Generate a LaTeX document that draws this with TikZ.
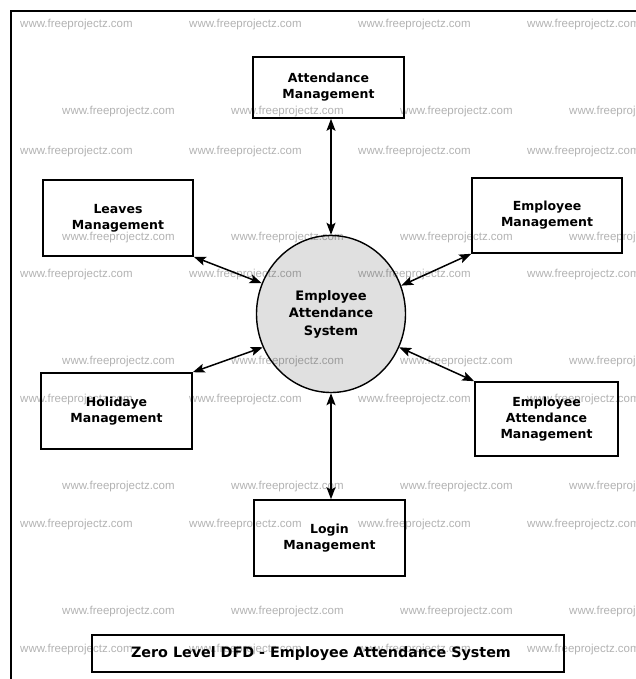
\documentclass[tikz,border=0pt]{standalone}
\usepackage{fontspec}
\setmainfont{DejaVu Sans}
\newfontfamily\wmfont{Liberation Sans}
\usetikzlibrary{shapes.geometric,arrows.meta}
\begin{document}
\begin{tikzpicture}[x=1pt,y=-1pt,
  procbox/.style={draw,line width=1.6pt,inner sep=0pt,align=center,
    font=\bfseries\fontsize{12.5}{16}\selectfont},
  flow/.style={line width=1.5pt,{Stealth[length=12pt,width=9pt,inset=2.5pt]}-{Stealth[length=12pt,width=9pt,inset=2.5pt]}},
  wm/.style={anchor=west,inner sep=0pt,text=black,text opacity=0.3,
    font=\wmfont\fontsize{11.5}{12}\selectfont}]
\useasboundingbox (0,0) rectangle (636,679);
\fill[white] (0,0) rectangle (636,679);
\draw[line width=2.5pt] (11,690) -- (11,11) -- (650,11);

\node[procbox,minimum width=151pt,minimum height=61pt] (att) at (328.5,87.5) {Attendance\\Management};
\node[procbox,minimum width=150pt,minimum height=76pt] (leaves) at (118,218) {Leaves\\Management};
\node[procbox,minimum width=150pt,minimum height=75pt] (emp) at (547,215.5) {Employee\\Management};
\node[procbox,minimum width=151pt,minimum height=76pt] (hol) at (116.5,411) {Holidaye\\Management};
\node[procbox,minimum width=143pt,minimum height=74pt] (ea) at (546.5,419) {Employee\\Attendance\\Management};
\node[procbox,minimum width=151pt,minimum height=76pt] (login) at (329.5,538) {Login\\Management};
\node[procbox,minimum width=472pt,minimum height=37pt] (title) at (328,653.5) {};
\node[inner sep=0pt,font=\bfseries\fontsize{14.3}{17}\selectfont] (titletext) at ([xshift=-7pt]title.center) {Zero Level DFD - Employee Attendance System};

\node[ellipse,draw,line width=1.4pt,fill=black!12,minimum width=149pt,minimum height=157pt,inner sep=0pt,align=center,
  font=\bfseries\fontsize{13}{17.5}\selectfont] (sys) at (331,314) {Employee\\Attendance\\System};

\draw[flow] (sys.north |- att.south) -- (sys.north);
\draw[flow] (leaves.south east) -- (sys.156);
\draw[flow] (emp.south west) -- (sys.22);
\draw[flow] (hol.north east) -- (sys.206);
\draw[flow] (ea.north west) -- (sys.334);
\draw[flow] (sys.south |- login.north) -- (sys.south);

\begin{scope}
\clip (0,0) rectangle (636,679);
\foreach \yy in {25,152,275,400,525,650}
  \foreach \xx in {20,189,358,527}
    \node[wm] (wa-\xx-\yy) at (\xx,\yy) {www.freeprojectz.com};
\foreach \yy in {112,238,362,487,612}
  \foreach \xx in {62,231,400,569}
    \node[wm] (wb-\xx-\yy) at (\xx,\yy) {www.freeprojectz.com};
\end{scope}
\end{tikzpicture}
\end{document}
